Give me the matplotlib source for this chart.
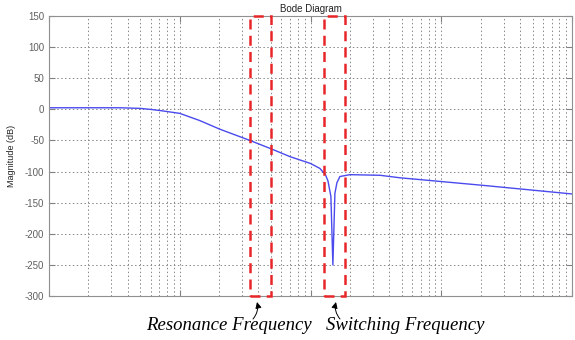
import numpy as np
import matplotlib
matplotlib.use("Agg")
import matplotlib.pyplot as plt
from matplotlib.patches import Rectangle

plt.rcParams.update({
    "font.family": "Liberation Sans",
    "font.size": 7,
    "axes.unicode_minus": False,
})

# magnitude curve (frequency in rad/s, magnitude in dB)
freq = [10, 35, 50, 59, 71, 100, 142, 203, 344, 507, 696, 1000, 1180,
        1300, 1360, 1432, 1483, 1537, 1592, 1678, 2000, 3400, 4820,
        20400, 100000]
mag_db = [2.5, 2.5, 1.5, 0, -2, -6.5, -18, -32, -50, -64, -76, -87, -95,
          -105, -115, -140, -250, -135, -118, -108, -105, -106, -110,
          -122, -136]

y_ticks = [150, 100, 50, 0, -50, -100, -150, -200, -250, -300]

# frequency bands marked with dashed boxes
bands = [(344, 498), (1266, 1832)]
band_labels = ["Resonance Frequency", "Switching Frequency"]

fig = plt.figure(figsize=(5.75, 3.4), dpi=100)
ax = fig.add_axes([0.0852, 0.1294, 0.9096, 0.8236])

ax.semilogx(freq, mag_db, color="#4a4aee", lw=1.0)
ax.set_xlim(10, 1e5)
ax.set_ylim(-300, 150)
ax.set_yticks(y_ticks)
ax.xaxis.set_major_formatter(matplotlib.ticker.NullFormatter())
ax.xaxis.set_minor_formatter(matplotlib.ticker.NullFormatter())
ax.tick_params(which="both", direction="in", colors="#808080",
               labelcolor="#606060", top=True, right=True, labelsize=7)
ax.tick_params(which="major", length=4)
ax.tick_params(which="minor", length=0)
ax.grid(True, which="both", axis="x", ls=(0, (1.5, 2.5)), color="#888888",
        lw=0.7)
ax.grid(True, which="major", axis="y", ls=(0, (1.5, 2.5)), color="#888888",
        lw=0.7)
for s in ax.spines.values():
    s.set_color("#909090")
ax.set_ylabel("Magnitude (dB)", fontsize=6.5, color="#222222", labelpad=6)
ax.set_title("Bode Diagram", fontsize=7, color="#222222", pad=3)

for lo, hi in bands:
    ax.add_patch(Rectangle((lo, -300), hi - lo, 450, fill=False,
                           edgecolor="#e8262a", lw=1.8, ls=(0, (4, 2.5)),
                           clip_on=False, zorder=5))

# arrows and italic labels below the axes
arrow_pts = [((257, 38), (253, 21), 0.25), ((336, 38), (340, 21), -0.25)]
text_x = [229, 405]
for (tip, tail, rad), tx, lbl in zip(arrow_pts, text_x, band_labels):
    ax.annotate("", xy=tip, xycoords="figure pixels", xytext=tail,
                textcoords="figure pixels",
                arrowprops=dict(arrowstyle="-|>", color="black", lw=0.7,
                                mutation_scale=9, shrinkA=0, shrinkB=0,
                                connectionstyle=f"arc3,rad={rad}"))
    fig.text(tx / 575, 14 / 340, lbl, ha="center", va="center",
             family="Liberation Serif", style="italic", fontsize=13.5)

fig.savefig("out.png", dpi=100)
